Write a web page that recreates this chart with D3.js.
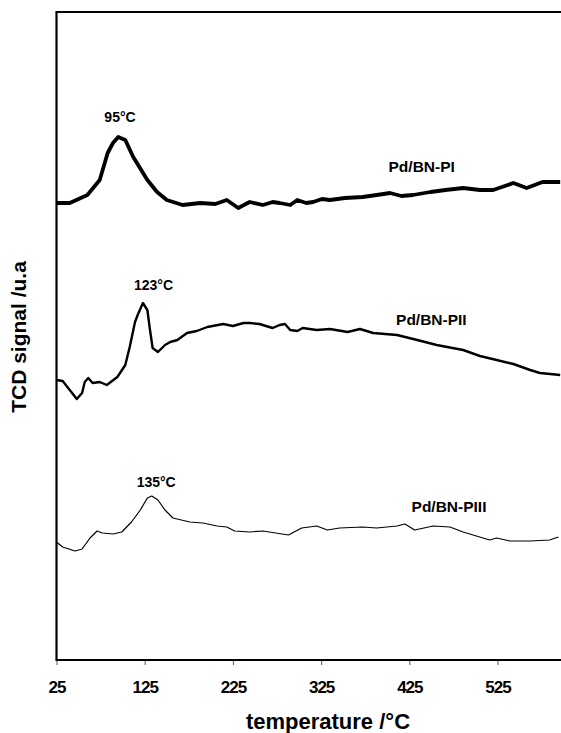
<!DOCTYPE html>
<html>
<head>
<meta charset="utf-8">
<script src="https://cdn.jsdelivr.net/npm/d3@7"></script>
<style>
  body { margin: 0; background: #fff; }
  svg { display: block; font-family: "Liberation Sans", Arial, sans-serif; }
</style>
</head>
<body>
<svg id="chart" width="561" height="733"></svg>
<script>
// temperature (°C) / TCD signal (u.a)
var tempPI = [25, 40, 60, 74, 83, 89, 95, 103, 112, 128, 139, 150, 168, 188, 205, 218, 231, 244, 259, 270, 278, 290, 298, 308, 316, 326, 335, 352, 372, 388, 403, 416, 429, 449, 466, 486, 505, 520, 543, 558, 576, 596];
var sigPI  = [457, 457, 465, 480, 507, 517, 523, 520, 503, 480, 468, 460, 455, 457, 456, 460, 452, 458, 455, 458, 457, 455, 460, 457, 458, 461, 460, 462, 463, 465, 467, 464, 465, 468, 470, 472, 470, 470, 477, 472, 478, 478];

var tempPII = [25, 32, 40, 48, 54, 57, 61, 66, 74, 82, 94, 103, 108, 114, 117, 123, 128, 131, 134, 140, 148, 154, 162, 173, 184, 196, 214, 225, 237, 244, 255, 270, 278, 284, 290, 298, 304, 320, 335, 355, 369, 384, 411, 434, 456, 486, 505, 524, 543, 562, 573, 596];
var sigPII  = [280, 279, 270, 261, 267, 278, 282, 277, 278, 275, 283, 295, 313, 338, 345, 357, 350, 330, 312, 308, 315, 318, 320, 327, 329, 333, 336, 334, 337, 337, 336, 332, 335, 336, 330, 329, 332, 330, 331, 328, 331, 327, 325, 320, 315, 310, 304, 300, 296, 290, 287, 285];

var tempPIII = [25, 32, 46, 54, 63, 71, 77, 89, 99, 110, 120, 128, 133, 140, 148, 157, 176, 191, 207, 218, 227, 244, 259, 288, 303, 320, 332, 346, 372, 388, 411, 420, 431, 452, 471, 486, 516, 524, 539, 562, 584, 594];
var sigPIII  = [118, 113, 109, 111, 122, 129, 127, 126, 128, 138, 150, 162, 164, 160, 150, 142, 138, 137, 134, 133, 129, 128, 129, 125, 132, 134, 130, 132, 133, 132, 134, 136, 130, 134, 133, 128, 120, 122, 119, 119, 120, 123];

var xTicks = [25, 125, 225, 325, 425, 525];

var seriesNames = ["Pd/BN-PI", "Pd/BN-PII", "Pd/BN-PIII"];
// peak labels: [text, temp, signal]
var peakLabels = [["95°C", 97, 538], ["123°C", 135, 370], ["135°C", 138, 173]];
// series name labels: [temp, signal]
var nameLabels = [[439, 488], [450, 335], [470, 148]];

var svg = d3.select('#chart');

var x = d3.scaleLinear().domain([25, 600]).range([56.5, 563.7]);
var y = d3.scaleLinear().domain([0, 648]).range([660, 12]);

var series = [
  { t: tempPI, v: sigPI, w: 3.8 },
  { t: tempPII, v: sigPII, w: 2.4 },
  { t: tempPIII, v: sigPIII, w: 1.2 }
];

var line = d3.line()
  .x(d => x(d[0]))
  .y(d => y(d[1]));

series.forEach(function(s){
  svg.append('path')
    .datum(s.t.map((t, i) => [t, s.v[i]]))
    .attr('d', line)
    .attr('fill', 'none')
    .attr('stroke', '#000')
    .attr('stroke-width', s.w)
    .attr('stroke-linejoin', 'round');
});

//Axes
var xAxis = d3.axisBottom(x)
  .tickValues(xTicks)
  .tickSize(5)
  .tickPadding(16)
  .tickSizeOuter(0);

var gx = svg.append('g')
  .attr('transform', 'translate(0,' + 660 + ')')
  .call(xAxis);
gx.select('.domain').remove();
gx.selectAll('.tick line').attr('stroke', '#555').attr('stroke-width', 1);
gx.selectAll('.tick text')
  .style('font-size', '17px')
  .style('font-weight', 'bold')
  .style('letter-spacing', '-1px')
  .attr('fill', '#000');

// frame: left, bottom, top
svg.append('path')
  .attr('d', 'M' + x(600) + ',' + y(648) + 'H' + x(25) + 'V' + y(0) + 'H' + x(600))
  .attr('fill', 'none')
  .attr('stroke', '#000')
  .attr('stroke-width', 2.2);

// labels
peakLabels.forEach(function(p){
  svg.append('text')
    .attr('x', x(p[1]))
    .attr('y', y(p[2]))
    .attr('text-anchor', 'middle')
    .style('font-size', '14px')
    .style('font-weight', 'bold')
    .text(p[0]);
});

nameLabels.forEach(function(p, i){
  svg.append('text')
    .attr('x', x(p[0]))
    .attr('y', y(p[1]))
    .attr('text-anchor', 'middle')
    .style('font-size', '15.5px')
    .style('font-weight', 'bold')
    .text(seriesNames[i]);
});

svg.append('text')
  .attr('x', 328)
  .attr('y', 729)
  .attr('text-anchor', 'middle')
  .style('font-size', '22px')
  .style('font-weight', 'bold')
  .text('temperature /°C');

svg.append('text')
  .attr('transform', 'translate(26,337) rotate(-90)')
  .attr('text-anchor', 'middle')
  .style('font-size', '21px')
  .style('font-weight', 'bold')
  .text('TCD signal /u.a');
</script>
</body>
</html>
